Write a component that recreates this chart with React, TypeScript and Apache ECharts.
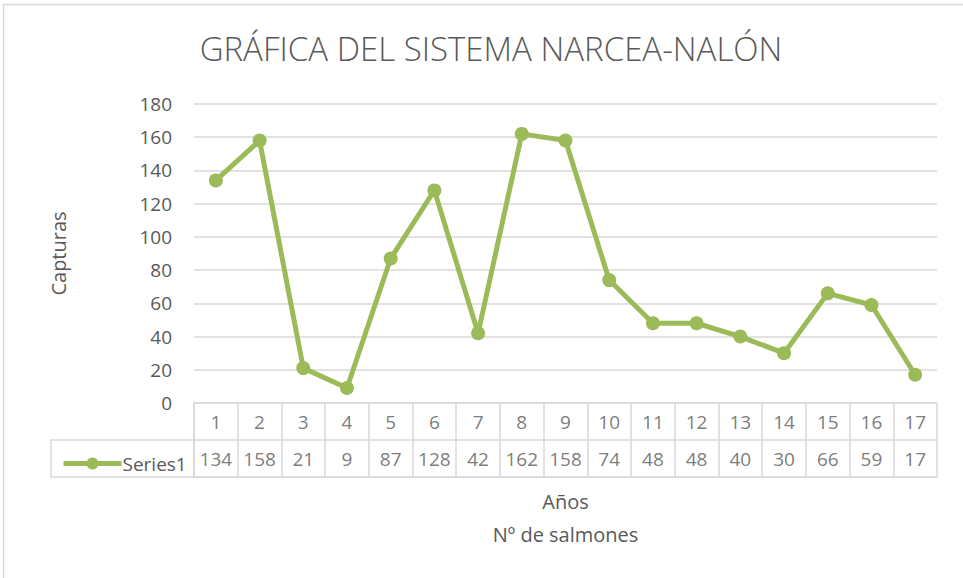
import React, { useEffect, useRef } from "react";
import * as echarts from "echarts";

const title = "GRÁFICA DEL SISTEMA NARCEA-NALÓN";
const seriesName = "Series1";
const categories = ["1", "2", "3", "4", "5", "6", "7", "8", "9", "10", "11", "12", "13", "14", "15", "16", "17"];
const values = [134, 158, 21, 9, 87, 128, 42, 162, 158, 74, 48, 48, 40, 30, 66, 59, 17];
const yTicks = { min: 0, max: 180, interval: 20 };
const yName = "Capturas";
const xName = "Años\nNº de salmones";

const FONT = "'Open Sans', 'Liberation Sans', sans-serif";
const TEXT = "#595959";
const GRID_C = "#d9d9d9";
const GREEN = "#9BBB59";

export default function App() {
  const ref = useRef<HTMLDivElement>(null);
  useEffect(() => {
    if (!ref.current) return;
    const chart = echarts.init(ref.current, null, { renderer: "svg" });
    const tableData: any[] = [];
    categories.forEach((c, i) => {
      tableData.push([i, "h", c]);
      tableData.push([i, "v", String(values[i])]);
    });
    chart.setOption({
      animation: false,
      backgroundColor: "#ffffff",
      textStyle: { fontFamily: FONT },
      title: {
        text: title,
        left: 486,
        top: 27,
        textAlign: "center",
        textStyle: { fontFamily: FONT, fontSize: 33, fontWeight: 300, color: TEXT },
      },
      legend: {
        left: 56,
        top: 449,
        itemWidth: 58,
        itemHeight: 15,
        itemGap: 4,
        data: [seriesName],
        itemStyle: { color: GREEN },
        lineStyle: { color: GREEN, width: 5 },
        textStyle: { fontFamily: FONT, fontSize: 19, color: TEXT, padding: [0, 0, 0, -4] },
      },
      graphic: [
        {
          type: "rect",
          shape: { x: 3.5, y: 4.5, width: 1200, height: 1200 },
          style: { fill: "none", stroke: GRID_C, lineWidth: 1.5 },
          silent: true,
        },
        {
          type: "rect",
          shape: { x: 51, y: 440, width: 143, height: 37 },
          style: { fill: "none", stroke: GRID_C, lineWidth: 1.5 },
          silent: true,
        },
      ],
      grid: [
        { left: 194, right: 26, top: 104, height: 299, containLabel: false },
        { left: 194, right: 26, top: 403, height: 74, containLabel: false },
      ],
      xAxis: [
        {
          type: "category",
          gridIndex: 0,
          data: categories,
          boundaryGap: true,
          axisLine: { show: false },
          axisTick: { show: false },
          axisLabel: { show: false },
        },
        {
          type: "category",
          gridIndex: 1,
          data: categories,
          boundaryGap: true,
          axisLine: { show: true, lineStyle: { color: GRID_C, width: 1.5 } },
          axisTick: { show: false },
          axisLabel: { show: false },
          splitLine: { show: true, lineStyle: { color: GRID_C, width: 1.5 } },
          name: xName,
          nameLocation: "middle",
          nameGap: 8,
          nameTextStyle: { fontFamily: FONT, fontSize: 20, color: TEXT, lineHeight: 33, verticalAlign: "top" },
        },
      ],
      yAxis: [
        {
          type: "value",
          gridIndex: 0,
          min: yTicks.min,
          max: yTicks.max,
          interval: yTicks.interval,
          axisLine: { show: false },
          axisTick: { show: false },
          axisLabel: { fontFamily: FONT, fontSize: 19, color: TEXT, margin: 22 },
          splitLine: { show: true, lineStyle: { color: GRID_C, width: 1.5 } },
          name: yName,
          nameLocation: "middle",
          nameRotate: 90,
          nameGap: 126,
          nameTextStyle: { fontFamily: FONT, fontSize: 20, color: TEXT },
        },
        {
          type: "category",
          gridIndex: 1,
          data: ["v", "h"],
          boundaryGap: true,
          axisLine: { show: true, lineStyle: { color: GRID_C, width: 1.5 } },
          axisTick: { show: false },
          axisLabel: { show: false },
          splitLine: { show: true, lineStyle: { color: GRID_C, width: 1.5 } },
        },
      ],
      series: [
        {
          name: seriesName,
          type: "line",
          xAxisIndex: 0,
          yAxisIndex: 0,
          data: values,
          symbol: "circle",
          symbolSize: 14,
          lineStyle: { color: GREEN, width: 5 },
          itemStyle: { color: GREEN },
        },
        {
          name: "table",
          type: "scatter",
          xAxisIndex: 1,
          yAxisIndex: 1,
          data: tableData,
          symbolSize: 1,
          itemStyle: { color: "rgba(0,0,0,0)" },
          silent: true,
          label: {
            show: true,
            position: "inside",
            formatter: (p: any) => p.value[2],
            fontFamily: FONT,
            fontSize: 19,
            color: TEXT,
          },
        },
      ],
    });
    return () => chart.dispose();
  }, []);
  return (
    <div
      ref={ref}
      style={{ position: "fixed", left: 0, top: 0, width: 963, height: 578 }}
    />
  );
}
